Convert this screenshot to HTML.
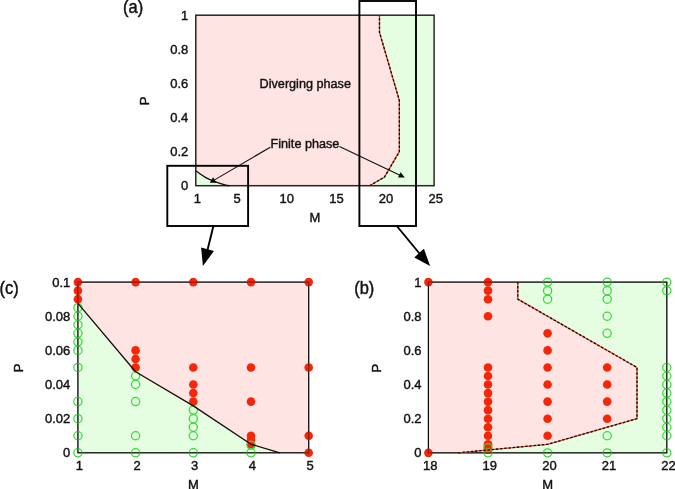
<!DOCTYPE html>
<html><head><meta charset="utf-8"><title>Phase diagram</title>
<style>html,body{margin:0;padding:0;background:#fff;}svg{display:block;}text{fill:#111;stroke:#111;stroke-width:0.4px;}</style></head>
<body><svg width="675" height="489" viewBox="0 0 675 489">
<rect width="675" height="489" fill="#fff"/>
<rect x="195.8" y="15.2" width="238.30" height="170.50" fill="#fee4e2"/>
<path d="M195.80,170.78 C197.45,171.92 202.42,175.74 205.73,177.60 C209.04,179.46 212.35,180.71 215.66,181.95 C218.97,183.19 223.27,184.39 225.59,185.02 C227.90,185.64 228.90,185.59 229.56,185.70 L195.80,185.70 Z" fill="#e5fee2"/>
<polygon points="369.56,185.70 384.45,177.17 399.35,151.60 399.35,100.45 379.49,32.25 379.49,15.20 434.10,15.20 434.10,185.70" fill="#e5fee2"/>
<rect x="195.8" y="15.2" width="238.30" height="170.50" fill="none" stroke="#000" stroke-opacity="0.85" stroke-width="1.5"/>
<path d="M195.80,170.78 C197.45,171.92 202.42,175.74 205.73,177.60 C209.04,179.46 212.35,180.71 215.66,181.95 C218.97,183.19 223.27,184.39 225.59,185.02 C227.90,185.64 228.90,185.59 229.56,185.70" fill="none" stroke="#1a0a0a" stroke-width="1.3" stroke-linejoin="round"/>
<polyline points="369.56,185.70 384.45,177.17 399.35,151.60 399.35,100.45 379.49,32.25 379.49,15.20" fill="none" stroke="#e2553c" stroke-width="1.3" stroke-linejoin="round"/>
<polyline points="369.56,185.70 384.45,177.17 399.35,151.60 399.35,100.45 379.49,32.25 379.49,15.20" fill="none" stroke="#1c0600" stroke-width="1.3" stroke-dasharray="2.5 1.7" stroke-linejoin="round"/>
<text x="188.3" y="190.30" text-anchor="end" font-size="13" font-family="Liberation Sans, Arial, Helvetica, sans-serif">0</text>
<text x="188.3" y="156.20" text-anchor="end" font-size="13" font-family="Liberation Sans, Arial, Helvetica, sans-serif">0.2</text>
<text x="188.3" y="122.10" text-anchor="end" font-size="13" font-family="Liberation Sans, Arial, Helvetica, sans-serif">0.4</text>
<text x="188.3" y="88.00" text-anchor="end" font-size="13" font-family="Liberation Sans, Arial, Helvetica, sans-serif">0.6</text>
<text x="188.3" y="53.90" text-anchor="end" font-size="13" font-family="Liberation Sans, Arial, Helvetica, sans-serif">0.8</text>
<text x="188.3" y="19.80" text-anchor="end" font-size="13" font-family="Liberation Sans, Arial, Helvetica, sans-serif">1</text>
<text x="197.40" y="202.8" text-anchor="middle" font-size="13" font-family="Liberation Sans, Arial, Helvetica, sans-serif">1</text>
<text x="237.12" y="202.8" text-anchor="middle" font-size="13" font-family="Liberation Sans, Arial, Helvetica, sans-serif">5</text>
<text x="286.76" y="202.8" text-anchor="middle" font-size="13" font-family="Liberation Sans, Arial, Helvetica, sans-serif">10</text>
<text x="336.41" y="202.8" text-anchor="middle" font-size="13" font-family="Liberation Sans, Arial, Helvetica, sans-serif">15</text>
<text x="386.05" y="202.8" text-anchor="middle" font-size="13" font-family="Liberation Sans, Arial, Helvetica, sans-serif">20</text>
<text x="435.70" y="202.8" text-anchor="middle" font-size="13" font-family="Liberation Sans, Arial, Helvetica, sans-serif">25</text>
<text x="315" y="221.7" text-anchor="middle" font-size="13" font-family="Liberation Sans, Arial, Helvetica, sans-serif">M</text>
<text transform="translate(148.6,101) rotate(-90)" text-anchor="middle" font-size="13" font-family="Liberation Sans, Arial, Helvetica, sans-serif">P</text>
<text transform="translate(123.0,12.9) scale(1,1.1)" font-size="16.5" font-family="Liberation Sans, Arial, Helvetica, sans-serif">(a)</text>
<text x="259.6" y="88" font-size="12.65" font-family="Liberation Sans, Arial, Helvetica, sans-serif">Diverging phase</text>
<text x="270.5" y="148.1" font-size="12.65" font-family="Liberation Sans, Arial, Helvetica, sans-serif">Finite phase</text>
<line x1="270.3" y1="147.2" x2="213.3" y2="180.6" stroke="#111" stroke-width="1.1"/>
<polygon points="213.1,177.3 209.8,182.8 216.4,182.8" fill="#000"/>
<line x1="339.5" y1="146.6" x2="401" y2="175.7" stroke="#111" stroke-width="1.1"/>
<polygon points="404.8,177.5 398.0,177.6 400.6,172.2" fill="#000"/>
<rect x="167.3" y="165.8" width="80.8" height="60.2" fill="none" stroke="#000" stroke-width="1.9"/>
<rect x="359.4" y="1" width="56.6" height="225" fill="none" stroke="#000" stroke-width="1.9"/>
<line x1="213.4" y1="226" x2="207.5" y2="250" stroke="#000" stroke-width="1.9"/>
<polygon points="202.9,265.9 201.1,247.5 213.9,251.1" fill="#000"/>
<line x1="396.8" y1="226" x2="419.5" y2="253.5" stroke="#000" stroke-width="1.9"/>
<polygon points="430.1,265.9 414.3,257.4 423.9,248.8" fill="#000"/>
<rect x="77.9" y="282.1" width="230.80" height="170.70" fill="#fee4e2"/>
<polygon points="77.90,303.44 135.60,371.72 193.30,405.86 251.00,444.26 279.85,452.80 77.90,452.80" fill="#e5fee2"/>
<rect x="77.9" y="282.1" width="230.80" height="170.70" fill="none" stroke="#111" stroke-width="1.15"/>
<circle cx="77.90" cy="282.10" r="4.3" fill="#f62608"/>
<circle cx="77.90" cy="290.63" r="4.3" fill="#f62608"/>
<circle cx="77.90" cy="299.17" r="4.3" fill="#f62608"/>
<circle cx="135.60" cy="282.10" r="4.3" fill="#f62608"/>
<circle cx="135.60" cy="350.38" r="4.3" fill="#f62608"/>
<circle cx="135.60" cy="358.92" r="4.3" fill="#f62608"/>
<circle cx="135.60" cy="367.45" r="4.3" fill="#f62608"/>
<circle cx="193.30" cy="282.10" r="4.3" fill="#f62608"/>
<circle cx="193.30" cy="367.45" r="4.3" fill="#f62608"/>
<circle cx="193.30" cy="384.52" r="4.3" fill="#f62608"/>
<circle cx="193.30" cy="393.06" r="4.3" fill="#f62608"/>
<circle cx="193.30" cy="401.59" r="4.3" fill="#f62608"/>
<circle cx="251.00" cy="282.10" r="4.3" fill="#f62608"/>
<circle cx="251.00" cy="367.45" r="4.3" fill="#f62608"/>
<circle cx="251.00" cy="401.59" r="4.3" fill="#f62608"/>
<circle cx="251.00" cy="435.73" r="4.3" fill="#f62608"/>
<circle cx="251.00" cy="440.00" r="4.3" fill="#f62608"/>
<circle cx="251.00" cy="444.26" r="4.3" fill="#f62608"/>
<circle cx="308.70" cy="282.10" r="4.3" fill="#f62608"/>
<circle cx="308.70" cy="367.45" r="4.3" fill="#f62608"/>
<circle cx="308.70" cy="435.73" r="4.3" fill="#f62608"/>
<circle cx="308.70" cy="452.80" r="4.3" fill="#f62608"/>
<circle cx="77.90" cy="307.71" r="4.1" fill="none" stroke="#33dd33" stroke-width="1.25"/>
<circle cx="77.90" cy="316.24" r="4.1" fill="none" stroke="#33dd33" stroke-width="1.25"/>
<circle cx="77.90" cy="324.78" r="4.1" fill="none" stroke="#33dd33" stroke-width="1.25"/>
<circle cx="77.90" cy="333.31" r="4.1" fill="none" stroke="#33dd33" stroke-width="1.25"/>
<circle cx="77.90" cy="341.85" r="4.1" fill="none" stroke="#33dd33" stroke-width="1.25"/>
<circle cx="77.90" cy="350.38" r="4.1" fill="none" stroke="#33dd33" stroke-width="1.25"/>
<circle cx="77.90" cy="367.45" r="4.1" fill="none" stroke="#33dd33" stroke-width="1.25"/>
<circle cx="77.90" cy="401.59" r="4.1" fill="none" stroke="#33dd33" stroke-width="1.25"/>
<circle cx="77.90" cy="418.66" r="4.1" fill="none" stroke="#33dd33" stroke-width="1.25"/>
<circle cx="77.90" cy="435.73" r="4.1" fill="none" stroke="#33dd33" stroke-width="1.25"/>
<circle cx="77.90" cy="452.80" r="4.1" fill="none" stroke="#33dd33" stroke-width="1.25"/>
<circle cx="135.60" cy="375.99" r="4.1" fill="none" stroke="#33dd33" stroke-width="1.25"/>
<circle cx="135.60" cy="384.52" r="4.1" fill="none" stroke="#33dd33" stroke-width="1.25"/>
<circle cx="135.60" cy="401.59" r="4.1" fill="none" stroke="#33dd33" stroke-width="1.25"/>
<circle cx="135.60" cy="435.73" r="4.1" fill="none" stroke="#33dd33" stroke-width="1.25"/>
<circle cx="135.60" cy="452.80" r="4.1" fill="none" stroke="#33dd33" stroke-width="1.25"/>
<circle cx="193.30" cy="410.12" r="4.1" fill="none" stroke="#33dd33" stroke-width="1.25"/>
<circle cx="193.30" cy="418.66" r="4.1" fill="none" stroke="#33dd33" stroke-width="1.25"/>
<circle cx="193.30" cy="427.19" r="4.1" fill="none" stroke="#33dd33" stroke-width="1.25"/>
<circle cx="193.30" cy="435.73" r="4.1" fill="none" stroke="#33dd33" stroke-width="1.25"/>
<circle cx="193.30" cy="452.80" r="4.1" fill="none" stroke="#33dd33" stroke-width="1.25"/>
<circle cx="251.00" cy="445.12" r="4.1" fill="none" stroke="#33dd33" stroke-width="1.25"/>
<circle cx="251.00" cy="452.80" r="4.1" fill="none" stroke="#33dd33" stroke-width="1.25"/>
<rect x="77.9" y="282.1" width="230.80" height="170.70" fill="none" stroke="#000" stroke-opacity="0.45" stroke-width="1.15"/>
<polyline points="77.90,303.44 135.60,371.72 193.30,405.86 251.00,444.26 279.85,452.80" fill="none" stroke="#1a0a0a" stroke-width="1.3" stroke-linejoin="round"/>
<text x="70.3" y="457.30" text-anchor="end" font-size="13" font-family="Liberation Sans, Arial, Helvetica, sans-serif">0</text>
<text x="70.3" y="423.16" text-anchor="end" font-size="13" font-family="Liberation Sans, Arial, Helvetica, sans-serif">0.02</text>
<text x="70.3" y="389.02" text-anchor="end" font-size="13" font-family="Liberation Sans, Arial, Helvetica, sans-serif">0.04</text>
<text x="70.3" y="354.88" text-anchor="end" font-size="13" font-family="Liberation Sans, Arial, Helvetica, sans-serif">0.06</text>
<text x="70.3" y="320.74" text-anchor="end" font-size="13" font-family="Liberation Sans, Arial, Helvetica, sans-serif">0.08</text>
<text x="70.3" y="286.60" text-anchor="end" font-size="13" font-family="Liberation Sans, Arial, Helvetica, sans-serif">0.1</text>
<text x="79.30" y="469.6" text-anchor="middle" font-size="13" font-family="Liberation Sans, Arial, Helvetica, sans-serif">1</text>
<text x="137.00" y="469.6" text-anchor="middle" font-size="13" font-family="Liberation Sans, Arial, Helvetica, sans-serif">2</text>
<text x="194.70" y="469.6" text-anchor="middle" font-size="13" font-family="Liberation Sans, Arial, Helvetica, sans-serif">3</text>
<text x="252.40" y="469.6" text-anchor="middle" font-size="13" font-family="Liberation Sans, Arial, Helvetica, sans-serif">4</text>
<text x="310.10" y="469.6" text-anchor="middle" font-size="13" font-family="Liberation Sans, Arial, Helvetica, sans-serif">5</text>
<text x="193.4" y="488.6" text-anchor="middle" font-size="13" font-family="Liberation Sans, Arial, Helvetica, sans-serif">M</text>
<text transform="translate(22.5,368) rotate(-90)" text-anchor="middle" font-size="13" font-family="Liberation Sans, Arial, Helvetica, sans-serif">P</text>
<text transform="translate(-0.6,293.8) scale(1,1.1)" font-size="16.5" font-family="Liberation Sans, Arial, Helvetica, sans-serif">(c)</text>
<rect x="428.4" y="282.1" width="238.40" height="170.75" fill="#fee4e2"/>
<polygon points="458.20,452.85 547.60,444.31 637.00,418.70 637.00,367.48 517.80,299.18 517.80,282.10 666.80,282.10 666.80,452.85" fill="#e5fee2"/>
<rect x="428.4" y="282.1" width="238.40" height="170.75" fill="none" stroke="#111" stroke-width="1.15"/>
<circle cx="428.40" cy="282.10" r="4.3" fill="#f62608"/>
<circle cx="428.40" cy="452.85" r="4.3" fill="#f62608"/>
<circle cx="488.00" cy="282.10" r="4.3" fill="#f62608"/>
<circle cx="488.00" cy="290.64" r="4.3" fill="#f62608"/>
<circle cx="488.00" cy="299.18" r="4.3" fill="#f62608"/>
<circle cx="488.00" cy="316.25" r="4.3" fill="#f62608"/>
<circle cx="488.00" cy="367.48" r="4.3" fill="#f62608"/>
<circle cx="488.00" cy="376.01" r="4.3" fill="#f62608"/>
<circle cx="488.00" cy="384.55" r="4.3" fill="#f62608"/>
<circle cx="488.00" cy="393.09" r="4.3" fill="#f62608"/>
<circle cx="488.00" cy="401.62" r="4.3" fill="#f62608"/>
<circle cx="488.00" cy="410.16" r="4.3" fill="#f62608"/>
<circle cx="488.00" cy="418.70" r="4.3" fill="#f62608"/>
<circle cx="488.00" cy="427.24" r="4.3" fill="#f62608"/>
<circle cx="488.00" cy="435.78" r="4.3" fill="#f62608"/>
<circle cx="488.00" cy="444.31" r="4.3" fill="#f62608"/>
<circle cx="488.00" cy="446.02" r="4.3" fill="#f62608"/>
<circle cx="488.00" cy="449.78" r="4.3" fill="#f62608"/>
<circle cx="547.60" cy="333.33" r="4.3" fill="#f62608"/>
<circle cx="547.60" cy="350.40" r="4.3" fill="#f62608"/>
<circle cx="547.60" cy="367.48" r="4.3" fill="#f62608"/>
<circle cx="547.60" cy="384.55" r="4.3" fill="#f62608"/>
<circle cx="547.60" cy="401.62" r="4.3" fill="#f62608"/>
<circle cx="547.60" cy="418.70" r="4.3" fill="#f62608"/>
<circle cx="547.60" cy="435.78" r="4.3" fill="#f62608"/>
<circle cx="607.20" cy="367.48" r="4.3" fill="#f62608"/>
<circle cx="607.20" cy="384.55" r="4.3" fill="#f62608"/>
<circle cx="607.20" cy="401.62" r="4.3" fill="#f62608"/>
<circle cx="607.20" cy="418.70" r="4.3" fill="#f62608"/>
<circle cx="488.00" cy="447.73" r="4.1" fill="none" stroke="#33dd33" stroke-width="1.25"/>
<circle cx="488.00" cy="452.85" r="4.1" fill="none" stroke="#33dd33" stroke-width="1.25"/>
<circle cx="547.60" cy="282.10" r="4.1" fill="none" stroke="#33dd33" stroke-width="1.25"/>
<circle cx="547.60" cy="290.64" r="4.1" fill="none" stroke="#33dd33" stroke-width="1.25"/>
<circle cx="547.60" cy="299.18" r="4.1" fill="none" stroke="#33dd33" stroke-width="1.25"/>
<circle cx="547.60" cy="452.85" r="4.1" fill="none" stroke="#33dd33" stroke-width="1.25"/>
<circle cx="607.20" cy="282.10" r="4.1" fill="none" stroke="#33dd33" stroke-width="1.25"/>
<circle cx="607.20" cy="290.64" r="4.1" fill="none" stroke="#33dd33" stroke-width="1.25"/>
<circle cx="607.20" cy="299.18" r="4.1" fill="none" stroke="#33dd33" stroke-width="1.25"/>
<circle cx="607.20" cy="316.25" r="4.1" fill="none" stroke="#33dd33" stroke-width="1.25"/>
<circle cx="607.20" cy="333.33" r="4.1" fill="none" stroke="#33dd33" stroke-width="1.25"/>
<circle cx="607.20" cy="435.78" r="4.1" fill="none" stroke="#33dd33" stroke-width="1.25"/>
<circle cx="607.20" cy="452.85" r="4.1" fill="none" stroke="#33dd33" stroke-width="1.25"/>
<circle cx="666.80" cy="282.10" r="4.1" fill="none" stroke="#33dd33" stroke-width="1.25"/>
<circle cx="666.80" cy="290.64" r="4.1" fill="none" stroke="#33dd33" stroke-width="1.25"/>
<circle cx="666.80" cy="367.48" r="4.1" fill="none" stroke="#33dd33" stroke-width="1.25"/>
<circle cx="666.80" cy="376.01" r="4.1" fill="none" stroke="#33dd33" stroke-width="1.25"/>
<circle cx="666.80" cy="384.55" r="4.1" fill="none" stroke="#33dd33" stroke-width="1.25"/>
<circle cx="666.80" cy="393.09" r="4.1" fill="none" stroke="#33dd33" stroke-width="1.25"/>
<circle cx="666.80" cy="401.62" r="4.1" fill="none" stroke="#33dd33" stroke-width="1.25"/>
<circle cx="666.80" cy="410.16" r="4.1" fill="none" stroke="#33dd33" stroke-width="1.25"/>
<circle cx="666.80" cy="418.70" r="4.1" fill="none" stroke="#33dd33" stroke-width="1.25"/>
<circle cx="666.80" cy="427.24" r="4.1" fill="none" stroke="#33dd33" stroke-width="1.25"/>
<circle cx="666.80" cy="435.78" r="4.1" fill="none" stroke="#33dd33" stroke-width="1.25"/>
<circle cx="666.80" cy="452.85" r="4.1" fill="none" stroke="#33dd33" stroke-width="1.25"/>
<rect x="428.4" y="282.1" width="238.40" height="170.75" fill="none" stroke="#000" stroke-opacity="0.45" stroke-width="1.15"/>
<polyline points="458.20,452.85 547.60,444.31 637.00,418.70 637.00,367.48 517.80,299.18 517.80,282.10" fill="none" stroke="#e2553c" stroke-width="1.3" stroke-linejoin="round"/>
<polyline points="458.20,452.85 547.60,444.31 637.00,418.70 637.00,367.48 517.80,299.18 517.80,282.10" fill="none" stroke="#1c0600" stroke-width="1.3" stroke-dasharray="2.5 1.7" stroke-linejoin="round"/>
<text x="421.6" y="457.35" text-anchor="end" font-size="13" font-family="Liberation Sans, Arial, Helvetica, sans-serif">0</text>
<text x="421.6" y="423.20" text-anchor="end" font-size="13" font-family="Liberation Sans, Arial, Helvetica, sans-serif">0.2</text>
<text x="421.6" y="389.05" text-anchor="end" font-size="13" font-family="Liberation Sans, Arial, Helvetica, sans-serif">0.4</text>
<text x="421.6" y="354.90" text-anchor="end" font-size="13" font-family="Liberation Sans, Arial, Helvetica, sans-serif">0.6</text>
<text x="421.6" y="320.75" text-anchor="end" font-size="13" font-family="Liberation Sans, Arial, Helvetica, sans-serif">0.8</text>
<text x="421.6" y="286.60" text-anchor="end" font-size="13" font-family="Liberation Sans, Arial, Helvetica, sans-serif">1</text>
<text x="430.20" y="469.6" text-anchor="middle" font-size="13" font-family="Liberation Sans, Arial, Helvetica, sans-serif">18</text>
<text x="489.80" y="469.6" text-anchor="middle" font-size="13" font-family="Liberation Sans, Arial, Helvetica, sans-serif">19</text>
<text x="549.40" y="469.6" text-anchor="middle" font-size="13" font-family="Liberation Sans, Arial, Helvetica, sans-serif">20</text>
<text x="609.00" y="469.6" text-anchor="middle" font-size="13" font-family="Liberation Sans, Arial, Helvetica, sans-serif">21</text>
<text x="668.60" y="469.6" text-anchor="middle" font-size="13" font-family="Liberation Sans, Arial, Helvetica, sans-serif">22</text>
<text x="547.6" y="488.6" text-anchor="middle" font-size="13" font-family="Liberation Sans, Arial, Helvetica, sans-serif">M</text>
<text transform="translate(381,368.2) rotate(-90)" text-anchor="middle" font-size="13" font-family="Liberation Sans, Arial, Helvetica, sans-serif">P</text>
<text transform="translate(354.2,294.0) scale(1,1.1)" font-size="16.5" font-family="Liberation Sans, Arial, Helvetica, sans-serif">(b)</text>
</svg></body></html>
